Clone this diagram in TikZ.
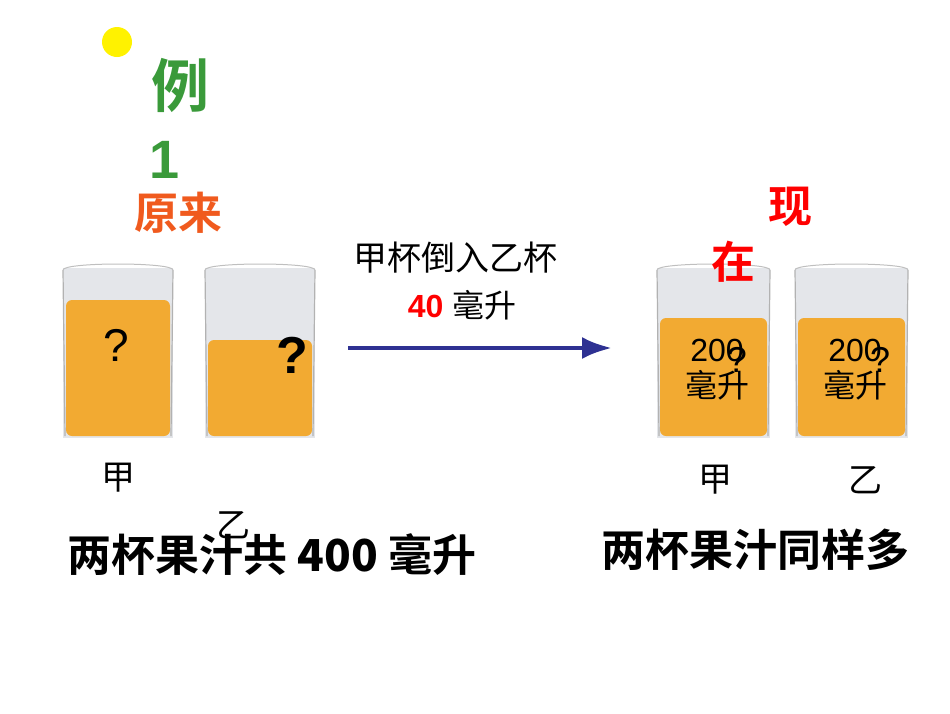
\documentclass[tikz,border=0pt]{standalone}
\usetikzlibrary{arrows.meta}
\usepackage{fontspec}
\setmainfont{Liberation Sans}
\newfontfamily\cjk{Noto Sans CJK SC}
\newfontfamily\cjkb{Noto Sans CJK SC Bold}
\definecolor{juice}{HTML}{F2AA32}
\definecolor{glassc}{HTML}{E4E6EA}
\definecolor{arrowc}{HTML}{2E3192}
\definecolor{grn}{HTML}{3A9A3A}
\definecolor{org}{HTML}{F05A1E}
\begin{document}
\begin{tikzpicture}[x=1pt,y=-1pt,
  lbl/.style={font=\cjk\fontsize{34}{36}\selectfont},
  big/.style={font=\cjkb\fontsize{44}{48}\selectfont},
  q/.style={font=\fontsize{34}{36}\selectfont}]
\useasboundingbox (0,0) rectangle (950,713);
\newcommand\glass[4]{% x1 x2 juicetop name
  \fill[glassc] (#1,268) rectangle (#2,438);
  \fill[juice,rounded corners=6] (#1+3,#3) rectangle (#2-3,436);
  \draw[gray!60,line width=1.2] (#1,270) -- (#1+2,436) (#2,270) -- (#2-2,436);
  \draw[gray!50,line width=1] (#1,270) .. controls (#1,262) and (#2,262) .. (#2,270);
  \coordinate (#4) at ({(#1+#2)/2},438);
}
\fill[yellow] (117,42) circle (15);
\glass{63}{173}{300}{g1}
\glass{205}{315}{340}{g2}
\glass{657}{770}{318}{g3}
\glass{795}{908}{318}{g4}
\node[font=\cjkb\fontsize{58}{60}\selectfont,text=grn] (li) at (180,85) {例};
\node[font=\bfseries\fontsize{54}{56}\selectfont,text=grn] (one) at (165,160) {1};
\node[big,text=org] (yl) at (178,213) {原来};
\node[big,text=red] (xian) at (790,207) {现};
\node[big,text=red] (zai) at (733,262) {在};
\node[font=\fontsize{46}{48}\selectfont] (q1) at (116,345) {?};
\node[font=\bfseries\fontsize{52}{54}\selectfont] (q2) at (292,355) {?};
\node[font=\fontsize{36}{36}\selectfont] at (737,360) {?};
\node[font=\fontsize{36}{36}\selectfont] at (880,360) {?};
\node[font=\fontsize{32}{34}\selectfont,align=center] (t3) at (717,370) {200\\[2pt]{\cjk 毫升}};
\node[font=\fontsize{32}{34}\selectfont,align=center] (t4) at (855,370) {200\\[2pt]{\cjk 毫升}};
\node[lbl] (top) at (455,258) {甲杯倒入乙杯};
\node[font=\fontsize{32}{34}\selectfont] (amt) at (462,305) {\textbf{\textcolor{red}{40}} {\cjk 毫升}};
\coordinate (as) at (348,348);
\coordinate (ae) at (612,348);
\draw[arrowc,line width=4.5,-{Latex[length=30,width=22]}] (as) -- (ae);
\node[lbl] (jia1) at (118,478) {甲};
\node[lbl] (yi1) at (233,525) {乙};
\node[big] (sum) at (272,555) {两杯果汁共 {\bfseries 400} 毫升};
\node[lbl] (jia2) at (715,480) {甲};
\node[lbl] (yi2) at (865,480) {乙};
\node[big] (same) at (755,550) {两杯果汁同样多};
\end{tikzpicture}
\end{document}
